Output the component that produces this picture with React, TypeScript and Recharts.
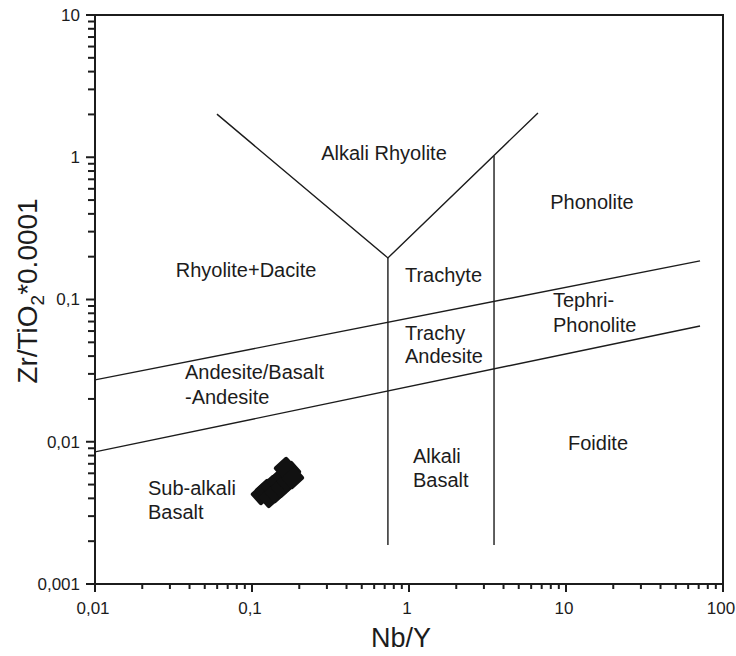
import { ComposedChart, ReferenceArea, Scatter, XAxis, YAxis } from 'recharts';

// tick positions (log axes) and the labels shown at the decades
const xTicks = [
  0.01, 0.02, 0.03, 0.04, 0.05, 0.06, 0.07, 0.08, 0.09,
  0.1, 0.2, 0.3, 0.4, 0.5, 0.6, 0.7, 0.8, 0.9,
  1, 2, 3, 4, 5, 6, 7, 8, 9,
  10, 20, 30, 40, 50, 60, 70, 80, 90,
  100,
];
const yTicks = [
  0.001, 0.002, 0.003, 0.004, 0.005, 0.006, 0.007, 0.008, 0.009,
  0.01, 0.02, 0.03, 0.04, 0.05, 0.06, 0.07, 0.08, 0.09,
  0.1, 0.2, 0.3, 0.4, 0.5, 0.6, 0.7, 0.8, 0.9,
  1, 2, 3, 4, 5, 6, 7, 8, 9,
  10,
];
const xMajor = [0.01, 0.1, 1, 10, 100];
const xMajorLabels = ['0,01', '0,1', '1', '10', '100'];
const yMajor = [0.001, 0.01, 0.1, 1, 10];
const yMajorLabels = ['0,001', '0,01', '0,1', '1', '10'];

// field boundaries (Nb/Y, Zr/TiO2*0.0001)
const upperLine = [
  { x: 0.01, y: 0.0272 },
  { x: 71.4, y: 0.1867 },
];
const lowerLine = [
  { x: 0.01, y: 0.00848 },
  { x: 71.4, y: 0.0651 },
];
const vLine = [
  { x: 0.0598, y: 2.01 },
  { x: 0.734, y: 0.196 },
  { x: 6.63, y: 2.05 },
];
const leftDivide = [
  { x: 0.734, y: 0.196 },
  { x: 0.734, y: 0.00188 },
];
const rightDivide = [
  { x: 3.48, y: 1.02 },
  { x: 3.48, y: 0.00188 },
];

// samples
const samples = [
  { x: 0.1158, y: 0.00429 },
  { x: 0.1228, y: 0.00458 },
  { x: 0.1302, y: 0.00409 },
  { x: 0.1341, y: 0.00489 },
  { x: 0.1422, y: 0.00443 },
  { x: 0.1464, y: 0.0053 },
  { x: 0.1553, y: 0.00481 },
  { x: 0.1599, y: 0.00574 },
  { x: 0.1696, y: 0.0053 },
  { x: 0.1746, y: 0.00613 },
  { x: 0.1622, y: 0.00655 },
  { x: 0.1824, y: 0.00556 },
];

// field names, placed at their baseline in data space
const centeredNames = [
  { x: 0.693, y: 0.957, text: 'Alkali Rhyolite' },
  { x: 14.64, y: 0.4327, text: 'Phonolite' },
  { x: 0.0916, y: 0.1439, text: 'Rhyolite+Dacite' },
  { x: 15.99, y: 0.00875, text: 'Foidite' },
];
const leftNames = [
  { x: 0.03743, y: 0.02762, text: 'Andesite/Basalt' },
  { x: 0.03743, y: 0.01842, text: '-Andesite' },
  { x: 0.943, y: 0.1327, text: 'Trachyte' },
  { x: 0.943, y: 0.05191, text: 'Trachy' },
  { x: 0.943, y: 0.03577, text: 'Andesite' },
  { x: 8.265, y: 0.08857, text: 'Tephri-' },
  { x: 8.265, y: 0.05908, text: 'Phonolite' },
  { x: 1.0605, y: 0.00709, text: 'Alkali' },
  { x: 1.0605, y: 0.00481, text: 'Basalt' },
  { x: 0.02176, y: 0.00422, text: 'Sub-alkali' },
  { x: 0.02176, y: 0.00286, text: 'Basalt' },
];

const FONT = '"Liberation Sans", Arial, sans-serif';
const INK = '#1c1c1c';
const lineStyle = { stroke: INK, strokeWidth: 1.4 };

const noDot = () => <g />;

function XTick({ x, y, payload }: any) {
  const idx = xMajor.findIndex((m) => Math.abs(m - payload.value) / m < 1e-6);
  const major = idx >= 0;
  return (
    <g>
      <line x1={x} x2={x} y1={y} y2={y + (major ? 8 : 5)} stroke={INK} strokeWidth={2} />
      {major && (
        <text x={x - 2} y={y + 30} textAnchor="middle" fontSize={17} fontFamily={FONT} fill={INK}>
          {xMajorLabels[idx]}
        </text>
      )}
    </g>
  );
}

function YTick({ x, y, payload }: any) {
  const idx = yMajor.findIndex((m) => Math.abs(m - payload.value) / m < 1e-6);
  const major = idx >= 0;
  return (
    <g>
      <line x1={x - (major ? 9 : 7)} x2={x} y1={y} y2={y} stroke={INK} strokeWidth={2} />
      {major && (
        <text x={x - 15} y={y} dy="0.35em" textAnchor="end" fontSize={17} fontFamily={FONT} fill={INK}>
          {yMajorLabels[idx]}
        </text>
      )}
    </g>
  );
}

const renderCentered = (props: any) => (
  <text x={props.cx} y={props.cy} textAnchor="middle" fontSize={20} fontFamily={FONT} fill={INK}>
    {props.payload.text}
  </text>
);

const renderLeft = (props: any) => (
  <text x={props.cx} y={props.cy} textAnchor="start" fontSize={20} fontFamily={FONT} fill={INK}>
    {props.payload.text}
  </text>
);

const renderSample = (props: any) => (
  <rect
    x={props.cx - 9}
    y={props.cy - 8}
    width={18}
    height={16}
    rx={2}
    fill="#111"
    transform={`rotate(-42 ${props.cx} ${props.cy})`}
  />
);

const renderXTitle = () => (
  <text x={401} y={647} textAnchor="middle" fontSize={27} fontFamily={FONT} fill={INK}>
    Nb/Y
  </text>
);

const renderYTitle = () => (
  <text transform="translate(37 291) rotate(-90)" textAnchor="middle" fontSize={28} fontFamily={FONT} fill={INK}>
    Zr/TiO
    <tspan dy={7} fontSize={19}>2</tspan>
    <tspan dy={-7}>*0.0001</tspan>
  </text>
);

export default function App() {
  return (
    <div style={{ position: 'absolute', left: 0, top: 0, width: 736, height: 656, background: '#fff' }}>
      <ComposedChart width={736} height={656} margin={{ top: 15, right: 13, bottom: 0, left: 0 }}>
        <XAxis
          dataKey="x"
          type="number"
          scale="log"
          domain={[0.01, 100]}
          allowDataOverflow
          ticks={xTicks}
          interval={0}
          tickSize={0}
          tickMargin={0}
          tickLine={false}
          tick={<XTick />}
          height={72}
          axisLine={{ stroke: INK, strokeWidth: 2 }}
          label={{ content: renderXTitle }}
        />
        <YAxis
          dataKey="y"
          type="number"
          scale="log"
          domain={[0.001, 10]}
          allowDataOverflow
          ticks={yTicks}
          interval={0}
          tickSize={0}
          tickMargin={0}
          tickLine={false}
          tick={<YTick />}
          width={95}
          axisLine={{ stroke: INK, strokeWidth: 2 }}
          label={{ content: renderYTitle }}
        />
        <ReferenceArea x1={0.01} x2={100} y1={0.001} y2={10} fill="#fff" fillOpacity={0} stroke={INK} strokeWidth={2} />
        <Scatter data={upperLine} line={lineStyle} shape={noDot} isAnimationActive={false} />
        <Scatter data={lowerLine} line={lineStyle} shape={noDot} isAnimationActive={false} />
        <Scatter data={vLine} line={lineStyle} shape={noDot} isAnimationActive={false} />
        <Scatter data={leftDivide} line={lineStyle} shape={noDot} isAnimationActive={false} />
        <Scatter data={rightDivide} line={lineStyle} shape={noDot} isAnimationActive={false} />
        <Scatter data={samples} shape={renderSample} isAnimationActive={false} />
        <Scatter data={centeredNames} shape={renderCentered} isAnimationActive={false} />
        <Scatter data={leftNames} shape={renderLeft} isAnimationActive={false} />
      </ComposedChart>
    </div>
  );
}
